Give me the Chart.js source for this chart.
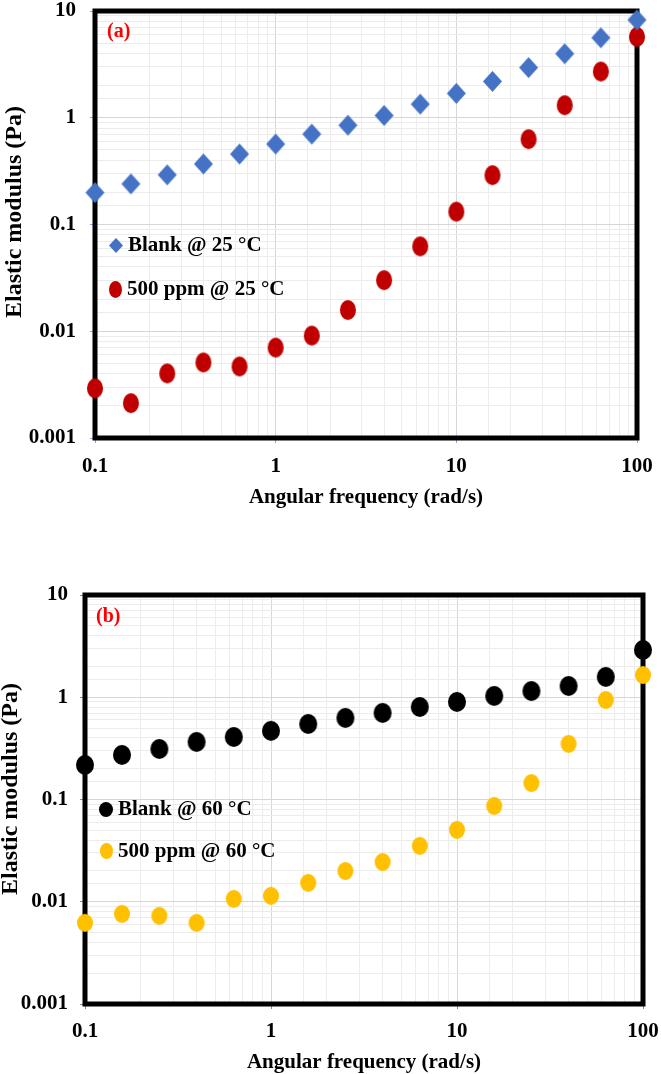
<!DOCTYPE html>
<html><head><meta charset="utf-8">
<script src="https://cdn.jsdelivr.net/npm/chart.js@4.4.1/dist/chart.umd.min.js"></script>
<style>
html,body{margin:0;padding:0;background:#fff;}
#wrap{position:relative;width:661px;height:1074px;overflow:hidden;background:#fff}
canvas{position:absolute;left:0}
#c1{top:0}
#c2{top:540px}
</style></head><body>
<div id="wrap">
<canvas id="c1" width="661" height="520"></canvas>
<canvas id="c2" width="661" height="534"></canvas>
</div>
<script>
// ---- data ----
const frequency = [0.1, 0.158, 0.251, 0.398, 0.631, 1, 1.585, 2.512, 3.981, 6.31, 10, 15.85, 25.12, 39.81, 63.1, 100];
const blank25 = [0.199, 0.240, 0.292, 0.369, 0.457, 0.567, 0.703, 0.851, 1.05, 1.34, 1.69, 2.19, 2.95, 3.98, 5.61, 8.25];
const ppm25 = [0.00292, 0.00212, 0.00403, 0.0051, 0.00468, 0.00703, 0.0091, 0.0158, 0.0301, 0.0624, 0.132, 0.29, 0.63, 1.31, 2.71, 5.73];
const blank60 = [0.218, 0.273, 0.312, 0.366, 0.409, 0.469, 0.548, 0.628, 0.703, 0.804, 0.900, 1.03, 1.15, 1.29, 1.58, 2.90];
const ppm60 = [0.00622, 0.00762, 0.00728, 0.00622, 0.01067, 0.01143, 0.0153, 0.0200, 0.0245, 0.0352, 0.0505, 0.0866, 0.145, 0.35, 0.94, 1.65];
const seriesLabels25 = ['Blank @ 25 °C', '500 ppm @ 25 °C'];
const seriesLabels60 = ['Blank @ 60 °C', '500 ppm @ 60 °C'];
const xTickLabels = ['0.1', '1', '10', '100'];
const yTickLabels = ['0.001', '0.01', '0.1', '1', '10'];
const panelLabels = ['(a)', '(b)'];
const xTitle = 'Angular frequency (rad/s)';
const yTitle = 'Elastic modulus (Pa)';

// ---- helpers ----
const FAM = '"Liberation Serif", "Times New Roman", serif';
const M = 2; // transparent margin around marker images
function ellipseMarker(w, h, color) {
  const c = document.createElement('canvas'); c.width = w + 2 * M; c.height = h + 2 * M;
  const g = c.getContext('2d'); g.fillStyle = color; g.beginPath();
  g.ellipse(c.width / 2, c.height / 2, w / 2, h / 2, 0, 0, Math.PI * 2); g.fill(); return c;
}
function diamondMarker(w, h, color) {
  const c = document.createElement('canvas'); c.width = w + 2 * M; c.height = h + 2 * M;
  const g = c.getContext('2d'); g.fillStyle = color; g.beginPath();
  g.moveTo(M + w / 2, M); g.lineTo(M + w, M + h / 2); g.lineTo(M + w / 2, M + h); g.lineTo(M, M + h / 2);
  g.closePath(); g.fill(); return c;
}
function isPow10(v) { const l = Math.log10(v); return Math.abs(l - Math.round(l)) < 1e-6; }
function labelFor(v, labels, minExp) {
  if (!isPow10(v)) return '';
  const i = Math.round(Math.log10(v)) - minExp;
  return labels[i] !== undefined ? labels[i] : '';
}
function pairs(xs, ys) { return xs.map((x, i) => ({x: x, y: ys[i]})); }

const panelPlugin = {
  id: 'panel',
  beforeDatasetsDraw(chart, args, opts) {
    const {ctx, chartArea: a} = chart;
    ctx.save();
    ctx.strokeStyle = '#000'; ctx.lineWidth = 5;
    ctx.strokeRect(a.left, a.top, a.right - a.left, a.bottom - a.top);
    ctx.restore();
  },
  afterDatasetsDraw(chart, args, opts) {
    const ctx = chart.ctx;
    ctx.save();
    ctx.textBaseline = 'middle'; ctx.textAlign = 'left';
    ctx.font = 'bold 20px ' + FAM; ctx.fillStyle = '#ff0000';
    ctx.fillText(opts.panelText, opts.panelX, opts.panelY);
    ctx.font = 'bold 21px ' + FAM; ctx.fillStyle = '#000';
    chart.data.datasets.forEach((ds, i) => {
      const it = opts.legend[i];
      const m = it.marker;
      ctx.drawImage(m, Math.round(it.x - m.width / 2), Math.round(it.y - m.height / 2));
      ctx.fillText(ds.label, it.x + opts.legendGap, it.y + 1);
    });
    ctx.translate(opts.yTitleX, opts.yTitleY); ctx.rotate(-Math.PI / 2);
    ctx.textAlign = 'center'; ctx.font = 'bold 24px ' + FAM;
    ctx.fillText(yTitle, 0, 0);
    ctx.restore();
  }
};

function makeChart(id, cfg) {
  const gridColor = (c) => (c.tick && isPow10(c.tick.value)) ? '#d6d6d6' : '#ececec';
  const tickColor = (c) => (c.tick && isPow10(c.tick.value)) ? cfg.tickColor : 'rgba(0,0,0,0)';
  return new Chart(document.getElementById(id), {
    type: 'scatter',
    data: {
      datasets: [
        {label: cfg.labels[0], data: pairs(frequency, cfg.s1), pointStyle: cfg.m1, pointRadius: 10, clip: false, showLine: false},
        {label: cfg.labels[1], data: pairs(frequency, cfg.s2), pointStyle: cfg.m2, pointRadius: 10, clip: false, showLine: false}
      ]
    },
    options: {
      responsive: false, animation: false, events: [],
      layout: {padding: {left: 0, top: cfg.padTop, right: cfg.padRight, bottom: 0}},
      plugins: {
        legend: {display: false}, tooltip: {enabled: false},
        panel: {
          panelText: cfg.panel, panelX: cfg.panelX, panelY: cfg.panelY,
          legend: cfg.legend, legendGap: cfg.legendGap,
          yTitleX: cfg.yTitleX, yTitleY: cfg.yTitleY
        }
      },
      scales: {
        x: {
          type: 'logarithmic', min: 0.1, max: 100,
          afterFit(s) { s.height = cfg.xH; s.paddingLeft = 0; s.paddingRight = 0; },
          border: {display: false},
          grid: {color: gridColor, lineWidth: 1, tickLength: 5, tickColor: tickColor, tickWidth: 1},
          ticks: {autoSkip: false, maxRotation: 0, minRotation: 0, padding: cfg.xPad, color: '#000',
                  font: {family: FAM, size: 21, weight: 'bold'},
                  callback: (v) => labelFor(v, xTickLabels, -1)},
          title: {display: true, text: xTitle, color: '#000',
                  font: {family: FAM, size: 21, weight: 'bold', lineHeight: 1.0},
                  padding: {top: 0, bottom: cfg.xTitlePad}}
        },
        y: {
          type: 'logarithmic', min: 0.001, max: 10,
          afterFit(s) { s.width = cfg.yW; s.paddingTop = 0; s.paddingBottom = 0; },
          border: {display: false},
          grid: {color: gridColor, lineWidth: 1, tickLength: 5, tickColor: tickColor, tickWidth: 1},
          ticks: {autoSkip: false, padding: cfg.yPad, color: '#000',
                  font: {family: FAM, size: 21, weight: 'bold'},
                  callback: (v) => labelFor(v, yTickLabels, -3)},
          title: {display: false}
        }
      }
    },
    plugins: [panelPlugin]
  });
}

makeChart('c1', {
  labels: seriesLabels25, s1: blank25, s2: ppm25,
  m1: diamondMarker(19, 21, '#4472C4'), m2: ellipseMarker(16, 20, '#C00000'),
  padTop: 10, padRight: 24, xH: 82, yW: 95, xPad: 11, yPad: 14, xTitlePad: 12,
  tickColor: '#8ea6d6',
  panel: panelLabels[0], panelX: 107, panelY: 32,
  legend: [
    {x: 116, y: 245, marker: diamondMarker(14, 15, '#4472C4')},
    {x: 115, y: 289, marker: ellipseMarker(13, 17, '#C00000')}
  ],
  legendGap: 12, yTitleX: 15, yTitleY: 212
});

makeChart('c2', {
  labels: seriesLabels60, s1: blank60, s2: ppm60,
  m1: ellipseMarker(18, 20, '#000000'), m2: ellipseMarker(16, 18, '#FFC000'),
  padTop: 55, padRight: 18, xH: 70, yW: 85, xPad: 10, yPad: 12, xTitlePad: 1,
  tickColor: '#8a8a8a',
  panel: panelLabels[1], panelX: 96, panelY: 77,
  legend: [
    {x: 106, y: 269, marker: ellipseMarker(14, 15, '#000000')},
    {x: 106, y: 311, marker: ellipseMarker(13, 16, '#FFC000')}
  ],
  legendGap: 12, yTitleX: 11, yTitleY: 249
});
</script>
</body></html>
